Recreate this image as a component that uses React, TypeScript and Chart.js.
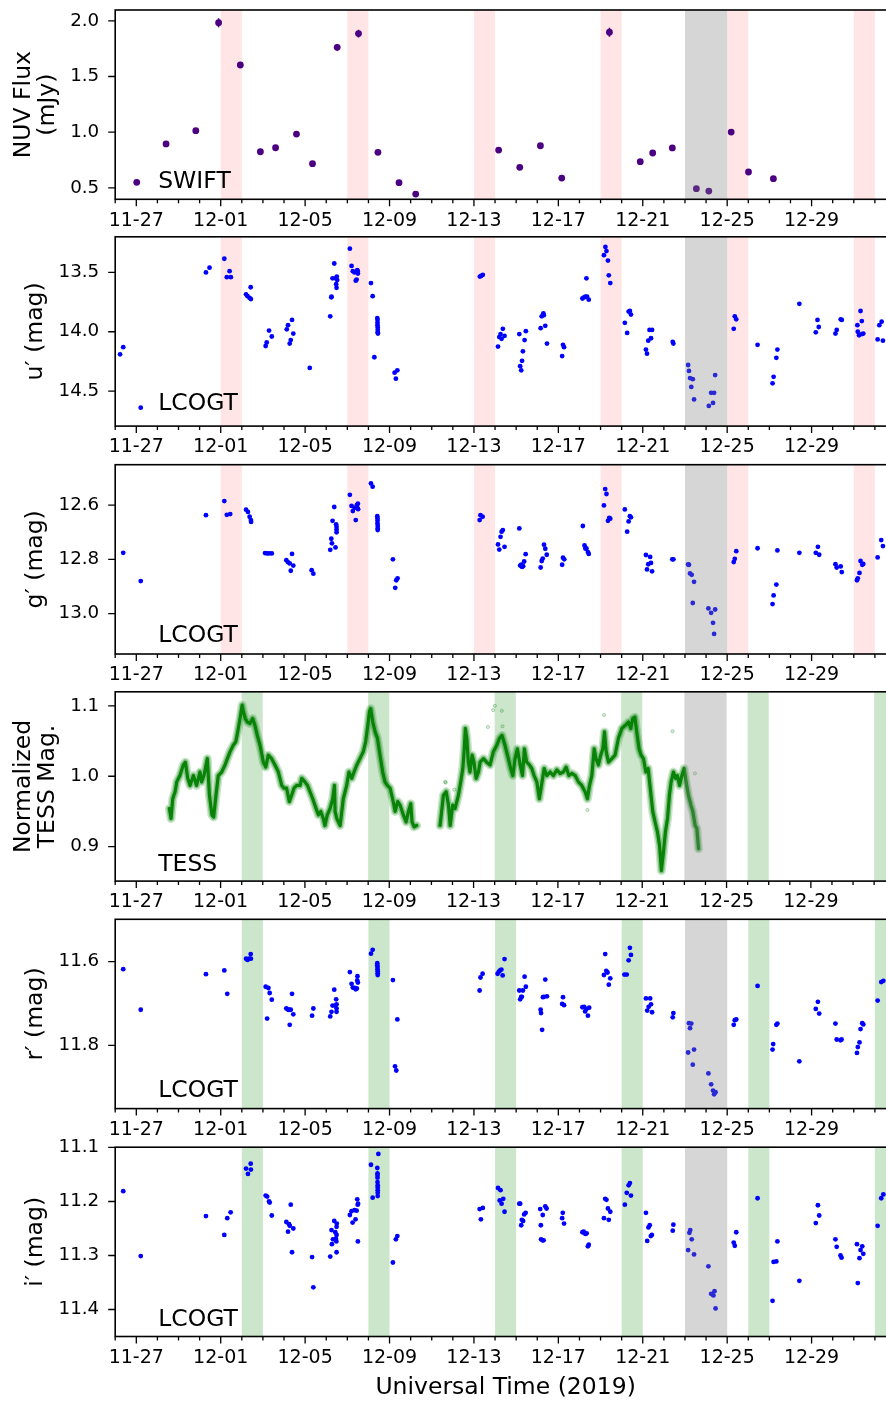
import { useEffect, useRef } from 'react';
import { Chart, registerables } from 'chart.js';

Chart.register(...registerables);

const FONT = '"DejaVu Sans", "Liberation Sans", sans-serif';

// Time axis in days: 1.0 = 2019-12-01 00:00 UT
const X_MIN = -4;
const X_MAX = 33;
const MAJOR_DAYS = [-3, 1, 5, 9, 13, 17, 21, 25, 29];

// Shaded one-day windows
const PINK_WINDOWS = [1, 7, 13, 19, 25, 31];
const GREEN_WINDOWS = [2, 8, 14, 20, 26, 32];
const GRAY_WINDOW = [23, 25];

// SWIFT NUV flux (mJy)
const swiftTime = [-2.98, -1.59, -0.18, 0.9, 1.93, 2.88, 3.6, 4.59, 5.35, 6.52, 7.53, 8.45, 9.45, 10.24, 14.17, 15.17, 16.15, 17.16, 19.42, 20.88, 21.47, 22.4, 23.54, 24.13, 25.19, 26.01, 27.19];
const swiftFlux = [0.549, 0.894, 1.013, 1.983, 1.603, 0.824, 0.86, 0.983, 0.717, 1.762, 1.885, 0.819, 0.546, 0.444, 0.839, 0.684, 0.878, 0.588, 1.897, 0.735, 0.813, 0.858, 0.492, 0.471, 1.001, 0.642, 0.582];
const swiftErr = [0.015, 0.02, 0.02, 0.04, 0.027, 0.02, 0.02, 0.02, 0.02, 0.03, 0.035, 0.02, 0.015, 0.015, 0.02, 0.02, 0.02, 0.015, 0.04, 0.02, 0.02, 0.02, 0.015, 0.015, 0.02, 0.02, 0.015];

// LCOGT u' (time, mag)
const uBand: [number, number][] = [
  [-3.77, 14.19], [-3.62, 14.13], [-2.79, 14.64], [0.3, 13.5], [0.47, 13.46], [1.17, 13.385], [1.29, 13.54], [1.42, 13.49], [1.48, 13.54],
  [2.2, 13.685], [2.27, 13.7], [2.37, 13.715], [2.43, 13.725], [2.42, 13.625], [3.13, 14.12], [3.18, 14.09], [3.29, 13.99], [3.42, 14.04],
  [4.13, 13.98], [4.19, 13.945], [4.27, 14.1], [4.32, 14.07], [4.38, 13.9], [4.44, 14.015], [5.22, 14.305], [6.19, 13.87], [6.24, 13.71],
  [6.25, 13.705], [6.3, 13.55], [6.38, 13.425], [6.44, 13.55], [6.47, 13.6], [6.49, 13.63], [6.5, 13.535], [6.52, 13.565], [7.12, 13.3],
  [7.2, 13.445], [7.26, 13.49], [7.34, 13.5], [7.4, 13.57], [7.44, 13.56], [7.47, 13.48], [7.5, 13.51], [7.49, 13.49], [8.12, 13.59],
  [8.2, 13.7], [8.28, 14.215], [8.42, 13.885], [8.43, 13.9], [8.43, 13.925], [8.43, 13.945], [8.44, 13.965], [8.44, 13.985], [8.44, 14.005],
  [8.45, 14.015], [9.24, 14.345], [9.3, 14.395], [9.37, 14.325],
  [13.28, 13.535], [13.34, 13.53], [13.42, 13.52], [14.14, 14.125], [14.2, 14.045], [14.26, 14.02], [14.31, 14.06], [14.37, 13.975],
  [14.45, 14.035], [15.15, 14.02], [15.19, 14.29], [15.24, 14.325], [15.28, 14.245], [15.32, 14.165], [15.4, 14.07], [15.46, 13.995],
  [16.16, 13.97], [16.21, 13.87], [16.29, 13.845], [16.31, 13.86], [16.38, 13.95], [16.46, 14.1], [17.18, 14.205], [17.22, 14.11],
  [17.27, 14.13], [18.14, 13.72], [18.22, 13.71], [18.28, 13.705], [18.33, 13.55], [18.36, 13.705], [18.44, 13.73], [19.16, 13.355],
  [19.23, 13.285], [19.28, 13.32], [19.35, 13.4], [19.39, 13.525], [19.46, 13.59], [20.15, 13.925], [20.26, 14.01], [20.33, 13.83],
  [20.39, 13.825], [20.44, 13.855], [21.15, 14.15], [21.2, 14.185], [21.26, 14.075], [21.32, 13.985], [21.39, 14.055], [21.44, 13.985],
  [22.42, 14.085], [22.45, 14.1], [23.15, 14.28], [23.19, 14.33], [23.24, 14.39], [23.3, 14.465], [23.37, 14.4], [23.43, 14.57],
  [24.13, 14.625], [24.24, 14.515], [24.33, 14.6], [24.38, 14.515], [24.43, 14.365], [25.31, 13.975], [25.36, 13.87], [25.43, 13.895],
  [26.44, 14.11], [27.15, 14.435], [27.2, 14.38], [27.33, 14.22], [27.38, 14.15], [28.42, 13.765], [29.2, 14.005], [29.28, 13.9],
  [29.34, 13.96], [30.13, 14.015], [30.19, 13.985], [30.38, 13.895], [30.43, 13.9], [31.17, 13.945], [31.19, 14.0], [31.25, 14.03],
  [31.32, 13.825], [31.38, 13.91], [31.39, 14.02], [31.45, 14.015], [32.13, 14.065], [32.21, 13.945], [32.32, 13.915], [32.38, 14.075],
];

// LCOGT g' (time, mag)
const gBand: [number, number][] = [
  [-3.62, 12.776], [-2.79, 12.88], [0.3, 12.637], [1.17, 12.585], [1.29, 12.636], [1.45, 12.633], [2.2, 12.617], [2.29, 12.625],
  [2.37, 12.643], [2.43, 12.655], [2.44, 12.662], [3.1, 12.777], [3.2, 12.778], [3.29, 12.778], [3.42, 12.778], [4.11, 12.803],
  [4.18, 12.81], [4.27, 12.815], [4.32, 12.842], [4.38, 12.78], [4.44, 12.823], [5.31, 12.84], [5.39, 12.853], [6.19, 12.765],
  [6.24, 12.724], [6.27, 12.741], [6.3, 12.658], [6.38, 12.607], [6.44, 12.756], [6.47, 12.671], [6.49, 12.68], [6.49, 12.69],
  [6.49, 12.7], [7.12, 12.562], [7.2, 12.603], [7.26, 12.622], [7.34, 12.61], [7.4, 12.655], [7.45, 12.6], [7.47, 12.61], [7.5, 12.595],
  [7.51, 12.615], [8.12, 12.52], [8.2, 12.532], [8.42, 12.641], [8.43, 12.649], [8.43, 12.658], [8.43, 12.668], [8.44, 12.677],
  [8.44, 12.686], [8.44, 12.692], [9.16, 12.8], [9.27, 12.905], [9.32, 12.877], [9.38, 12.87],
  [13.27, 12.655], [13.31, 12.637], [13.41, 12.643], [14.14, 12.745], [14.2, 12.764], [14.26, 12.717], [14.31, 12.698], [14.37, 12.692],
  [14.45, 12.754], [15.15, 12.686], [15.19, 12.823], [15.24, 12.82], [15.28, 12.828], [15.33, 12.825], [15.38, 12.808], [15.45, 12.781],
  [16.16, 12.83], [16.21, 12.806], [16.26, 12.797], [16.32, 12.746], [16.38, 12.761], [16.45, 12.783], [17.18, 12.82], [17.22, 12.794],
  [17.28, 12.8], [18.16, 12.677], [18.24, 12.749], [18.28, 12.76], [18.33, 12.76], [18.4, 12.773], [18.44, 12.78], [19.16, 12.601],
  [19.22, 12.541], [19.28, 12.559], [19.35, 12.658], [19.41, 12.647], [19.46, 12.65], [20.15, 12.616], [20.26, 12.698], [20.33, 12.66],
  [20.39, 12.641], [20.44, 12.645], [21.15, 12.784], [21.2, 12.837], [21.26, 12.818], [21.35, 12.791], [21.39, 12.813], [21.44, 12.844],
  [22.4, 12.8], [22.45, 12.8], [23.15, 12.819], [23.19, 12.82], [23.24, 12.852], [23.32, 12.857], [23.37, 12.961], [23.43, 12.883],
  [24.11, 12.981], [24.24, 12.997], [24.33, 13.034], [24.38, 13.075], [24.43, 12.985], [25.31, 12.81], [25.36, 12.798], [25.43, 12.77],
  [26.44, 12.759], [27.15, 12.965], [27.2, 12.933], [27.33, 12.893], [27.38, 12.767], [28.42, 12.776], [29.2, 12.776], [29.3, 12.754],
  [29.36, 12.783], [30.13, 12.818], [30.19, 12.83], [30.38, 12.826], [30.43, 12.847], [31.15, 12.877], [31.19, 12.87], [31.27, 12.85],
  [31.32, 12.806], [31.4, 12.82], [31.45, 12.817], [32.13, 12.793], [32.3, 12.729], [32.38, 12.751],
];

// LCOGT r' (time, mag)
const rBand: [number, number][] = [
  [-3.62, 11.618], [-2.79, 11.715], [0.3, 11.63], [1.17, 11.621], [1.31, 11.677], [2.2, 11.593], [2.27, 11.596], [2.35, 11.593],
  [2.42, 11.582], [2.43, 11.593], [3.13, 11.66], [3.2, 11.736], [3.26, 11.663], [3.32, 11.675], [3.42, 11.691], [4.11, 11.712],
  [4.2, 11.715], [4.24, 11.715], [4.27, 11.751], [4.32, 11.715], [4.38, 11.677], [4.44, 11.726], [5.33, 11.729], [5.39, 11.712],
  [6.19, 11.731], [6.25, 11.72], [6.3, 11.705], [6.38, 11.667], [6.42, 11.705], [6.47, 11.69], [6.49, 11.702], [6.49, 11.712],
  [6.49, 11.72], [7.12, 11.625], [7.2, 11.653], [7.26, 11.662], [7.35, 11.663], [7.4, 11.666], [7.45, 11.664], [7.47, 11.645],
  [7.48, 11.635], [7.5, 11.65], [8.12, 11.581], [8.2, 11.572], [8.42, 11.604], [8.42, 11.609], [8.43, 11.613], [8.43, 11.618],
  [8.44, 11.623], [8.44, 11.628], [8.44, 11.632], [9.16, 11.644], [9.26, 11.85], [9.32, 11.86], [9.37, 11.738],
  [13.27, 11.669], [13.31, 11.638], [13.41, 11.629], [14.12, 11.629], [14.18, 11.624], [14.24, 11.621], [14.3, 11.619], [14.36, 11.633],
  [14.45, 11.594], [15.15, 11.669], [15.19, 11.69], [15.24, 11.684], [15.27, 11.684], [15.32, 11.669], [15.4, 11.636], [15.46, 11.66],
  [16.16, 11.715], [16.18, 11.723], [16.23, 11.763], [16.27, 11.685], [16.32, 11.684], [16.38, 11.643], [16.46, 11.683], [17.18, 11.701],
  [17.22, 11.685], [17.27, 11.704], [18.14, 11.709], [18.22, 11.708], [18.27, 11.719], [18.33, 11.713], [18.4, 11.729], [18.46, 11.71],
  [19.16, 11.632], [19.22, 11.582], [19.27, 11.622], [19.33, 11.626], [19.39, 11.655], [19.46, 11.64], [20.13, 11.631], [20.24, 11.631],
  [20.33, 11.597], [20.39, 11.567], [20.44, 11.584], [21.15, 11.688], [21.21, 11.717], [21.28, 11.708], [21.35, 11.688], [21.39, 11.702],
  [21.44, 11.721], [22.42, 11.733], [22.45, 11.723], [23.15, 11.817], [23.19, 11.747], [23.24, 11.759], [23.3, 11.748], [23.37, 11.846],
  [23.43, 11.81], [24.11, 11.867], [24.24, 11.893], [24.33, 11.908], [24.38, 11.917], [24.45, 11.912], [25.31, 11.751], [25.36, 11.74],
  [25.43, 11.738], [26.44, 11.658], [27.15, 11.81], [27.18, 11.797], [27.33, 11.751], [27.38, 11.748], [28.42, 11.838], [29.2, 11.713],
  [29.3, 11.696], [29.36, 11.724], [30.13, 11.748], [30.19, 11.786], [30.37, 11.788], [30.42, 11.786], [31.15, 11.818], [31.19, 11.804],
  [31.27, 11.793], [31.32, 11.761], [31.4, 11.747], [31.45, 11.75], [32.13, 11.693], [32.3, 11.649], [32.4, 11.646],
];

// LCOGT i' (time, mag)
const iBand: [number, number][] = [
  [-3.62, 11.181], [-2.79, 11.301], [0.3, 11.227], [1.17, 11.262], [1.31, 11.231], [1.47, 11.22], [2.2, 11.139], [2.29, 11.149],
  [2.42, 11.13], [2.43, 11.141], [3.13, 11.189], [3.2, 11.191], [3.29, 11.2], [3.32, 11.202], [3.42, 11.226], [4.11, 11.238],
  [4.19, 11.256], [4.24, 11.242], [4.27, 11.245], [4.32, 11.206], [4.38, 11.294], [4.44, 11.25], [5.33, 11.303], [5.39, 11.359],
  [6.19, 11.302], [6.25, 11.253], [6.27, 11.279], [6.32, 11.27], [6.38, 11.236], [6.43, 11.257], [6.46, 11.269], [6.48, 11.274],
  [6.49, 11.262], [6.49, 11.247], [6.5, 11.241], [6.49, 11.294], [7.12, 11.225], [7.2, 11.218], [7.25, 11.239], [7.34, 11.216],
  [7.39, 11.233], [7.44, 11.217], [7.47, 11.196], [7.49, 11.206], [7.5, 11.274], [7.51, 11.204], [8.12, 11.132], [8.2, 11.193],
  [8.42, 11.138], [8.43, 11.148], [8.43, 11.151], [8.43, 11.156], [8.43, 11.164], [8.44, 11.17], [8.44, 11.174], [8.44, 11.179],
  [8.44, 11.184], [8.44, 11.19], [8.47, 11.112], [9.16, 11.313], [9.3, 11.27], [9.37, 11.264],
  [13.27, 11.214], [13.33, 11.233], [13.42, 11.212], [14.14, 11.175], [14.22, 11.198], [14.26, 11.179], [14.31, 11.204], [14.39, 11.195],
  [14.45, 11.219], [15.15, 11.204], [15.19, 11.204], [15.24, 11.244], [15.27, 11.234], [15.33, 11.236], [15.38, 11.224], [15.45, 11.221],
  [16.14, 11.214], [16.17, 11.244], [16.18, 11.27], [16.25, 11.272], [16.3, 11.272], [16.26, 11.225], [16.38, 11.209], [16.44, 11.213],
  [17.18, 11.231], [17.21, 11.221], [17.27, 11.241], [18.14, 11.257], [18.2, 11.256], [18.25, 11.259], [18.29, 11.26], [18.34, 11.259],
  [18.4, 11.283], [18.44, 11.28], [19.16, 11.231], [19.22, 11.195], [19.28, 11.197], [19.35, 11.213], [19.39, 11.234], [19.46, 11.219],
  [20.15, 11.206], [20.24, 11.184], [20.33, 11.17], [20.39, 11.166], [20.44, 11.189], [21.15, 11.221], [21.21, 11.273], [21.27, 11.248],
  [21.33, 11.244], [21.38, 11.264], [21.43, 11.262], [22.42, 11.254], [22.45, 11.243], [23.15, 11.29], [23.21, 11.258], [23.25, 11.253],
  [23.32, 11.27], [23.43, 11.298], [24.11, 11.32], [24.24, 11.371], [24.29, 11.372], [24.35, 11.374], [24.4, 11.366], [24.45, 11.398],
  [25.31, 11.276], [25.36, 11.282], [25.43, 11.257], [26.44, 11.194], [27.15, 11.384], [27.2, 11.312], [27.33, 11.311], [27.38, 11.274],
  [28.42, 11.347], [29.2, 11.24], [29.3, 11.207], [29.36, 11.226], [30.13, 11.27], [30.19, 11.284], [30.37, 11.3], [30.42, 11.304],
  [31.15, 11.279], [31.19, 11.351], [31.27, 11.305], [31.32, 11.29], [31.4, 11.283], [31.45, 11.297], [32.13, 11.245], [32.3, 11.194],
  [32.4, 11.187],
];

// TESS normalized light curve, two orbits (time, value)
const tessOrbit1: [number, number][] = [
  [-1.43, 0.954], [-1.35, 0.94], [-1.27, 0.968], [-1.16, 0.978], [-1.08, 0.992], [-0.93, 1.001], [-0.77, 1.016], [-0.67, 1.02],
  [-0.56, 0.997], [-0.45, 0.987], [-0.29, 1.001], [-0.14, 0.987], [0.02, 1.006], [0.1, 0.992], [0.21, 1.001], [0.37, 1.025],
  [0.47, 0.973], [0.59, 0.945], [0.67, 0.942], [0.78, 0.973], [0.89, 1.001], [1.05, 1.006], [1.21, 1.016], [1.32, 1.025],
  [1.45, 1.035], [1.6, 1.044], [1.72, 1.049], [1.81, 1.063], [1.92, 1.082], [2.02, 1.101], [2.08, 1.092], [2.17, 1.082],
  [2.27, 1.077], [2.39, 1.075], [2.52, 1.082], [2.63, 1.072], [2.74, 1.058], [2.87, 1.044], [3.03, 1.02], [3.14, 1.013],
  [3.26, 1.03], [3.42, 1.025], [3.58, 1.016], [3.74, 1.006], [3.9, 0.987], [4.01, 0.983], [4.13, 0.983], [4.26, 0.964],
  [4.37, 0.973], [4.48, 0.983], [4.61, 0.987], [4.77, 0.987], [4.85, 0.997], [5.0, 0.992], [5.12, 0.987], [5.24, 0.978],
  [5.37, 0.968], [5.53, 0.954], [5.64, 0.945], [5.75, 0.95], [5.87, 0.94], [5.95, 0.93], [6.06, 0.945], [6.19, 0.954],
  [6.32, 0.968], [6.4, 0.987], [6.43, 0.95], [6.51, 0.94], [6.67, 0.93], [6.82, 0.968], [6.98, 0.987], [7.09, 1.006],
  [7.22, 0.997], [7.33, 1.006], [7.46, 1.016], [7.61, 1.025], [7.77, 1.035], [7.88, 1.049], [7.98, 1.072], [8.06, 1.092],
  [8.12, 1.096], [8.22, 1.077], [8.33, 1.063], [8.44, 1.054], [8.56, 1.03], [8.69, 1.006], [8.8, 0.992], [8.91, 0.987],
  [9.04, 0.983], [9.16, 0.968], [9.28, 0.95], [9.4, 0.964], [9.51, 0.959], [9.67, 0.945], [9.8, 0.935], [9.91, 0.95],
  [10.02, 0.961], [10.08, 0.935], [10.18, 0.928], [10.3, 0.93],
];
const tessOrbit2: [number, number][] = [
  [11.41, 0.93], [11.57, 0.973], [11.7, 0.978], [11.81, 0.959], [11.89, 0.93], [12.01, 0.959], [12.12, 0.954], [12.28, 0.973],
  [12.39, 0.992], [12.49, 1.011], [12.55, 1.035], [12.61, 1.068], [12.68, 1.054], [12.75, 1.02], [12.83, 1.006], [12.93, 1.03],
  [13.02, 1.02], [13.12, 0.997], [13.23, 1.006], [13.31, 1.02], [13.47, 1.025], [13.62, 1.02], [13.78, 1.016], [13.94, 1.035],
  [14.1, 1.044], [14.23, 1.054], [14.35, 1.058], [14.49, 1.044], [14.65, 1.025], [14.76, 1.011], [14.86, 1.001], [14.97, 1.025],
  [15.08, 1.039], [15.21, 1.016], [15.32, 1.001], [15.41, 1.039], [15.52, 1.02], [15.65, 1.016], [15.76, 1.011], [15.87, 1.001],
  [16.0, 0.992], [16.12, 0.968], [16.22, 0.987], [16.35, 1.011], [16.47, 1.001], [16.63, 1.006], [16.79, 1.001], [16.95, 1.009],
  [17.1, 1.004], [17.26, 1.006], [17.39, 1.013], [17.52, 1.001], [17.66, 1.004], [17.82, 1.001], [17.97, 0.992], [18.13, 0.987],
  [18.29, 0.978], [18.4, 0.968], [18.5, 0.987], [18.61, 1.001], [18.72, 1.039], [18.81, 1.025], [18.92, 1.016], [19.03, 1.03],
  [19.13, 1.039], [19.21, 1.063], [19.29, 1.035], [19.4, 1.02], [19.56, 1.025], [19.71, 1.03], [19.87, 1.054], [20.03, 1.068],
  [20.19, 1.072], [20.35, 1.077], [20.46, 1.068], [20.55, 1.082], [20.65, 1.084], [20.74, 1.063], [20.85, 1.039], [20.95, 1.03],
  [21.06, 1.025], [21.17, 1.006], [21.28, 1.011], [21.38, 0.983], [21.5, 0.95], [21.61, 0.935], [21.72, 0.921], [21.82, 0.902],
  [21.91, 0.866], [22.01, 0.893], [22.1, 0.921], [22.2, 0.94], [22.29, 0.973], [22.37, 0.992], [22.48, 1.006], [22.58, 0.997],
  [22.67, 1.001], [22.77, 0.987], [22.88, 1.001], [22.99, 1.011], [23.08, 0.992], [23.19, 0.973], [23.31, 0.959], [23.4, 0.95],
  [23.51, 0.93], [23.59, 0.926], [23.67, 0.897],
];
const tessStray: [number, number][] = [
  [11.65, 0.992], [11.68, 0.991], [12.09, 0.981], [13.68, 1.07], [13.93, 1.094], [14.01, 1.1], [14.34, 1.093], [14.37, 1.071],
  [18.4, 0.952], [19.19, 1.087], [22.44, 1.064], [23.5, 1.004],
];

// Page geometry
const PAGE_W = 886;
const PAGE_H = 1403;
const PLOT_LEFT = 115.2;
const PX_PER_DAY = 21.075;
const PLOT_H = 189.3;
const PLOT_RIGHT = PLOT_LEFT + (X_MAX - X_MIN) * PX_PER_DAY;
// Chart.js keeps a few pixels of its own on the right of the x axis; the
// canvas is made wide enough that the plot still ends at PLOT_RIGHT.
const CANVAS_W = 900;
const PAD_RIGHT = CANVAS_W - PLOT_RIGHT - 3.975;
const PAD_TOP = 16;

const PINK = 'rgba(255,0,0,0.1)';
const GREEN = 'rgba(0,128,0,0.2)';
const GRAY = 'rgba(128,128,128,0.32)';
const LCO_BLUE = '#0000ff';
const INDIGO = '#4b0082';

type PanelCfg = {
  key: string;
  top: number;
  yMin: number;
  yMax: number;
  reverse: boolean;
  yTicks: number[];
  yTitle: string | string[];
  yTitlePad: number;
  legend: string;
  legendLift: number;
  windows: number[];
  windowColor: string;
  datasets: any[];
  errors?: { t: number[]; v: number[]; e: number[]; color: string };
  last?: boolean;
};

const pts = (arr: [number, number][]) => arr.map(([x, y]) => ({ x, y }));
const lcoSet = (arr: [number, number][]) => ({
  data: pts(arr),
  pointRadius: 2.4,
  pointBackgroundColor: LCO_BLUE,
  pointBorderWidth: 0,
  showLine: false,
});
const tessLine = (seg: [number, number][], color: string, width: number) => ({
  data: pts(seg),
  showLine: true,
  borderColor: color,
  borderWidth: width,
  pointRadius: 0,
  tension: 0,
  borderJoinStyle: 'round',
  borderCapStyle: 'round',
});

const PANELS: PanelCfg[] = [
  {
    key: 'nuv', top: 10, yMin: 0.397, yMax: 2.097, reverse: false, yTicks: [0.5, 1.0, 1.5, 2.0],
    yTitle: ['NUV Flux', '(mJy)'], yTitlePad: 12.4, legend: 'SWIFT', legendLift: 11,
    windows: PINK_WINDOWS, windowColor: PINK,
    datasets: [{
      data: swiftTime.map((t, i) => ({ x: t, y: swiftFlux[i] })),
      pointRadius: 3.4, pointBackgroundColor: INDIGO, pointBorderWidth: 0, showLine: false,
    }],
    errors: { t: swiftTime, v: swiftFlux, e: swiftErr, color: INDIGO },
  },
  {
    key: 'u', top: 236.8, yMin: 13.2, yMax: 14.795, reverse: true, yTicks: [13.5, 14.0, 14.5],
    yTitle: 'u\u2032 (mag)', yTitlePad: 24, legend: 'LCOGT', legendLift: 16,
    windows: PINK_WINDOWS, windowColor: PINK, datasets: [lcoSet(uBand)],
  },
  {
    key: 'g', top: 464.7, yMin: 12.451, yMax: 13.149, reverse: true, yTicks: [12.6, 12.8, 13.0],
    yTitle: 'g\u2032 (mag)', yTitlePad: 24, legend: 'LCOGT', legendLift: 12,
    windows: PINK_WINDOWS, windowColor: PINK, datasets: [lcoSet(gBand)],
  },
  {
    key: 'tess', top: 691.8, yMin: 0.851, yMax: 1.12, reverse: false, yTicks: [0.9, 1.0, 1.1],
    yTitle: ['Normalized', 'TESS Mag.'], yTitlePad: 12.4, legend: 'TESS', legendLift: 10,
    windows: GREEN_WINDOWS, windowColor: GREEN,
    datasets: [
      tessLine(tessOrbit1, 'rgba(0,128,0,0.2)', 9),
      tessLine(tessOrbit2, 'rgba(0,128,0,0.2)', 9),
      tessLine(tessOrbit1, 'rgba(0,128,0,0.35)', 6),
      tessLine(tessOrbit2, 'rgba(0,128,0,0.35)', 6),
      tessLine(tessOrbit1, 'rgba(0,125,0,0.95)', 3.2),
      tessLine(tessOrbit2, 'rgba(0,125,0,0.95)', 3.2),
      {
        data: pts(tessStray), showLine: false, pointRadius: 1.6,
        pointBackgroundColor: 'rgba(0,128,0,0.15)', pointBorderColor: 'rgba(0,128,0,0.35)', pointBorderWidth: 0.8,
      },
    ],
  },
  {
    key: 'r', top: 919.3, yMin: 11.499, yMax: 11.951, reverse: true, yTicks: [11.6, 11.8],
    yTitle: 'r\u2032 (mag)', yTitlePad: 24, legend: 'LCOGT', legendLift: 11.3,
    windows: GREEN_WINDOWS, windowColor: GREEN, datasets: [lcoSet(rBand)],
  },
  {
    key: 'i', top: 1147.2, yMin: 11.0995, yMax: 11.45, reverse: true, yTicks: [11.1, 11.2, 11.3, 11.4],
    yTitle: 'i\u2032 (mag)', yTitlePad: 24, legend: 'LCOGT', legendLift: 10.3,
    windows: GREEN_WINDOWS, windowColor: GREEN, datasets: [lcoSet(iBand)], last: true,
  },
];

function dayLabel(d: number) {
  const dt = new Date(Date.UTC(2019, 11, 1) + (d - 1) * 86400000);
  const mm = String(dt.getUTCMonth() + 1).padStart(2, '0');
  const dd = String(dt.getUTCDate()).padStart(2, '0');
  return `${mm}-${dd}`;
}

function decorPlugin(p: PanelCfg) {
  const clip = (ctx: CanvasRenderingContext2D, a: any) => {
    ctx.beginPath();
    ctx.rect(a.left, a.top, a.right - a.left, a.bottom - a.top);
    ctx.clip();
  };
  return {
    id: 'decor-' + p.key,
    beforeDatasetsDraw(chart: any) {
      const { ctx, chartArea: a } = chart;
      const x = chart.scales.x;
      const y = chart.scales.y;
      ctx.save();
      clip(ctx, a);
      ctx.fillStyle = p.windowColor;
      for (const s of p.windows) {
        const x0 = x.getPixelForValue(s);
        const x1 = x.getPixelForValue(s + 1);
        ctx.fillRect(x0, a.top, x1 - x0, a.bottom - a.top);
      }
      if (p.errors) {
        const { t, v, e, color } = p.errors;
        ctx.strokeStyle = color;
        ctx.lineWidth = 1.6;
        ctx.beginPath();
        t.forEach((ti, i) => {
          const px = x.getPixelForValue(ti);
          ctx.moveTo(px, y.getPixelForValue(v[i] - e[i]));
          ctx.lineTo(px, y.getPixelForValue(v[i] + e[i]));
        });
        ctx.stroke();
      }
      ctx.restore();
    },
    afterDatasetsDraw(chart: any) {
      const { ctx, chartArea: a } = chart;
      const x = chart.scales.x;
      ctx.save();
      clip(ctx, a);
      ctx.fillStyle = GRAY;
      const x0 = x.getPixelForValue(GRAY_WINDOW[0]);
      const x1 = x.getPixelForValue(GRAY_WINDOW[1]);
      ctx.fillRect(x0, a.top, x1 - x0, a.bottom - a.top);
      ctx.restore();
    },
    afterDraw(chart: any) {
      const { ctx, chartArea: a } = chart;
      const x = chart.scales.x;
      const y = chart.scales.y;
      ctx.save();
      ctx.strokeStyle = '#000';
      ctx.lineWidth = 1.3;
      ctx.beginPath();
      for (let d = Math.ceil(X_MIN); d < X_MAX; d++) {
        const px = x.getPixelForValue(d);
        const len = MAJOR_DAYS.includes(d) ? 7 : 4;
        ctx.moveTo(px, a.bottom);
        ctx.lineTo(px, a.bottom + len);
      }
      for (const v of p.yTicks) {
        const py = y.getPixelForValue(v);
        ctx.moveTo(a.left - 7, py);
        ctx.lineTo(a.left, py);
      }
      ctx.stroke();
      ctx.lineWidth = 1.6;
      ctx.strokeRect(a.left, a.top, a.right - a.left, a.bottom - a.top);
      ctx.fillStyle = '#000';
      ctx.font = `23.5px ${FONT}`;
      ctx.textBaseline = 'alphabetic';
      ctx.textAlign = 'left';
      ctx.fillText(p.legend, a.left + 43, a.bottom - p.legendLift);
      ctx.restore();
    },
  };
}

function PanelChart({ p }: { p: PanelCfg }) {
  const ref = useRef<HTMLCanvasElement>(null);
  const canvasTop = Math.floor(p.top - PAD_TOP);
  const padTop = p.top - canvasTop;
  const bottomSpace = p.last ? PAGE_H - (p.top + PLOT_H) : 30;
  const canvasH = Math.ceil(padTop + PLOT_H + bottomSpace);
  const xHeight = canvasH - padTop - PLOT_H;

  useEffect(() => {
    const chart = new Chart(ref.current as HTMLCanvasElement, {
      type: 'scatter',
      data: { datasets: p.datasets },
      plugins: [decorPlugin(p)],
      options: {
        animation: false,
        responsive: false,
        devicePixelRatio: 1,
        events: [],
        layout: { padding: { top: padTop, right: PAD_RIGHT, bottom: 0, left: 0 } },
        plugins: { legend: { display: false }, tooltip: { enabled: false } },
        scales: {
          x: {
            type: 'linear',
            min: X_MIN,
            max: X_MAX,
            afterBuildTicks: (s: any) => { s.ticks = MAJOR_DAYS.map((v) => ({ value: v })); },
            afterFit: (s: any) => { s.height = xHeight; },
            grid: { display: false, drawTicks: true, tickLength: 10 },
            border: { display: false },
            ticks: {
              autoSkip: false, maxRotation: 0, minRotation: 0, padding: 0, color: '#000',
              font: { family: FONT, size: 19 },
              callback: (v: any) => dayLabel(Number(v)),
            },
            title: p.last
              ? { display: true, text: 'Universal Time (2019)', color: '#000', font: { family: FONT, size: 23.5 }, padding: { top: 0, bottom: 1.7 } }
              : { display: false },
          },
          y: {
            type: 'linear',
            min: p.yMin,
            max: p.yMax,
            reverse: p.reverse,
            afterBuildTicks: (s: any) => { s.ticks = p.yTicks.map((v) => ({ value: v })); },
            afterFit: (s: any) => { s.width = PLOT_LEFT; },
            grid: { display: false, drawTicks: true, tickLength: 16 },
            border: { display: false },
            ticks: {
              padding: 0, color: '#000', font: { family: FONT, size: 18.3 },
              callback: (v: any) => Number(v).toFixed(1),
            },
            title: {
              display: true, text: p.yTitle, color: '#000',
              font: { family: FONT, size: 23.5, lineHeight: 1.0 },
              padding: { top: p.yTitlePad, bottom: 0 },
            },
          },
        },
      } as any,
    });
    return () => chart.destroy();
  }, []);

  return (
    <canvas
      ref={ref}
      width={CANVAS_W}
      height={canvasH}
      style={{ position: 'absolute', left: 0, top: canvasTop, width: CANVAS_W, height: canvasH }}
    />
  );
}

export default function App() {
  return (
    <div
      style={{
        position: 'absolute', left: 0, top: 0, width: PAGE_W, height: PAGE_H,
        overflow: 'hidden', background: '#fff',
      }}
    >
      {PANELS.map((p) => <PanelChart key={p.key} p={p} />)}
    </div>
  );
}
